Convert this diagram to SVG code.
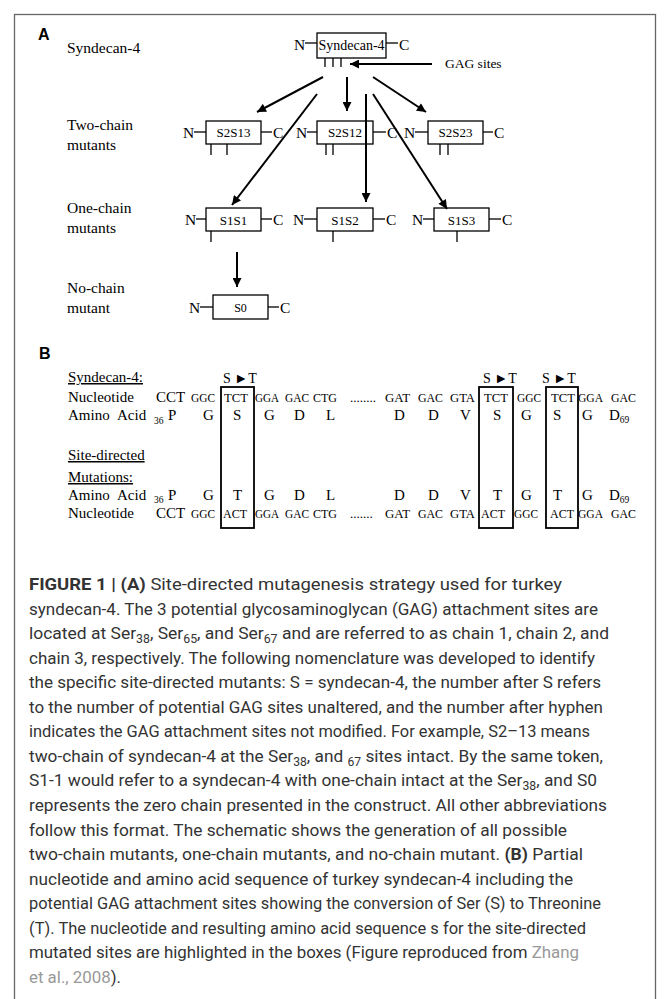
<svg xmlns="http://www.w3.org/2000/svg" width="669" height="999" viewBox="0 0 669 999">
<defs>
<marker id="ah" viewBox="0 0 10 10" refX="10" refY="5" markerWidth="10" markerHeight="9" markerUnits="userSpaceOnUse" orient="auto"><path d="M0,0 L10,5 L0,10 z" fill="#000"/></marker>
<style>
.ser{font-family:"Liberation Serif","Times New Roman",serif;fill:#000}
.lab{font-size:15.5px}
.bx{fill:#fff;stroke:#000;stroke-width:1.3}
.stub{stroke:#000;stroke-width:1.3;fill:none}
.nc{font-size:15.5px}
.bt{font-size:13px;text-anchor:middle}
.arr{stroke:#000;stroke-width:2;fill:none;marker-end:url(#ah)}
.hd{font-family:"Liberation Sans",Arial,sans-serif;font-weight:bold;font-size:16px;fill:#000}
.big{font-size:15px}
.cod{font-size:13px}
.sub{font-size:9.5px}
.sb{fill:none;stroke:#000;stroke-width:1.8}
.cap{font-family:Roboto,"Liberation Sans",sans-serif;font-size:17px;fill:#333}
.capb{font-weight:bold}
.link{fill:#999}
.cs{font-size:12px}
</style>
</defs>
<rect x="14.5" y="14.5" width="641" height="1000" fill="none" stroke="#666" stroke-width="1.3"/>

<text class="hd" x="38" y="40">A</text>
<g class="ser lab">
<text x="67" y="53">Syndecan-4</text>
<text x="67" y="130">Two-chain</text>
<text x="67" y="150">mutants</text>
<text x="67" y="213">One-chain</text>
<text x="67" y="233">mutants</text>
<text x="67" y="293">No-chain</text>
<text x="67" y="313">mutant</text>
</g>

<g id="syndecan4">
<text class="ser nc" x="294" y="50">N</text>
<line class="stub" x1="305" y1="43" x2="317" y2="43"/>
<rect class="bx" x="317" y="33" width="69" height="25"/>
<text class="ser" x="351.5" y="50" font-size="14" text-anchor="middle">Syndecan-4</text>
<line class="stub" x1="386" y1="43" x2="398" y2="43"/>
<text class="ser nc" x="399" y="50">C</text>
<path class="stub" d="M325,58V67M333,58V67M341,58V67"/>
</g>
<g id="gag-label">
<text class="ser" x="445" y="68" font-size="13.5">GAG sites</text>
</g>

<g id="s2s13">
<text class="ser nc" x="183" y="138">N</text>
<line class="stub" x1="194" y1="132" x2="206" y2="132"/>
<rect class="bx" x="206" y="121" width="55" height="23"/>
<text class="ser bt" x="233.5" y="137">S2S13</text>
<line class="stub" x1="261" y1="132" x2="272" y2="132"/>
<text class="ser nc" x="273" y="138">C</text>
<path class="stub" d="M211,144V155M227,144V155"/>
</g>
<g id="s2s12">
<text class="ser nc" x="296" y="138">N</text>
<line class="stub" x1="307" y1="132" x2="317" y2="132"/>
<rect class="bx" x="317" y="121" width="56" height="23"/>
<text class="ser bt" x="345" y="137">S2S12</text>
<line class="stub" x1="373" y1="132" x2="386" y2="132"/>
<text class="ser nc" x="387" y="138">C</text>
<path class="stub" d="M326,144V155M333,144V155"/>
</g>
<g id="s2s23">
<text class="ser nc" x="404" y="138">N</text>
<line class="stub" x1="415" y1="132" x2="428" y2="132"/>
<rect class="bx" x="428" y="121" width="55" height="23"/>
<text class="ser bt" x="455.5" y="137">S2S23</text>
<line class="stub" x1="483" y1="132" x2="493" y2="132"/>
<text class="ser nc" x="494" y="138">C</text>
<path class="stub" d="M440,144V155M448,144V155"/>
</g>

<g id="s1s1">
<text class="ser nc" x="185" y="225">N</text>
<line class="stub" x1="196" y1="219" x2="206" y2="219"/>
<rect class="bx" x="206" y="208" width="55" height="23"/>
<text class="ser bt" x="233.5" y="225">S1S1</text>
<line class="stub" x1="261" y1="219" x2="272" y2="219"/>
<text class="ser nc" x="273" y="225">C</text>
<path class="stub" d="M211,231V242"/>
</g>
<g id="s1s2">
<text class="ser nc" x="293" y="225">N</text>
<line class="stub" x1="304" y1="219" x2="317" y2="219"/>
<rect class="bx" x="317" y="208" width="56" height="23"/>
<text class="ser bt" x="345" y="225">S1S2</text>
<line class="stub" x1="373" y1="219" x2="385" y2="219"/>
<text class="ser nc" x="386" y="225">C</text>
<path class="stub" d="M333,231V242"/>
</g>
<g id="s1s3">
<text class="ser nc" x="412" y="225">N</text>
<line class="stub" x1="423" y1="219" x2="434" y2="219"/>
<rect class="bx" x="434" y="208" width="55" height="23"/>
<text class="ser bt" x="461.5" y="225">S1S3</text>
<line class="stub" x1="489" y1="219" x2="501" y2="219"/>
<text class="ser nc" x="502" y="225">C</text>
<path class="stub" d="M457,231V242"/>
</g>

<g id="s0">
<text class="ser nc" x="189" y="313">N</text>
<line class="stub" x1="200" y1="307" x2="213" y2="307"/>
<rect class="bx" x="213" y="295" width="55" height="24"/>
<text class="ser" x="240.5" y="312" font-size="12" text-anchor="middle">S0</text>
<line class="stub" x1="268" y1="307" x2="279" y2="307"/>
<text class="ser nc" x="280" y="313">C</text>
</g>

<g id="connectors">
<line class="arr" x1="432" y1="64" x2="350" y2="64"/>
<line class="arr" x1="323" y1="77" x2="257" y2="112"/>
<line class="arr" x1="347" y1="77" x2="347" y2="111"/>
<line class="arr" x1="373" y1="77" x2="426" y2="112"/>
<line class="arr" x1="317" y1="94" x2="232" y2="205"/>
<line class="arr" x1="366" y1="94" x2="366" y2="202"/>
<line class="arr" x1="373" y1="94" x2="447" y2="209"/>
<line class="arr" x1="237" y1="252" x2="237" y2="287"/>
</g>

<text class="hd" x="39" y="359">B</text>

<g id="sequence" class="ser">
<text class="big" x="68" y="382" text-decoration="underline">Syndecan-4:</text>
<g font-size="14">
<text x="223" y="383">S ►T</text>
<text x="483" y="383">S ►T</text>
<text x="542" y="383">S ►T</text>
</g>
<text class="big" x="68" y="402">Nucleotide</text>
<text class="big" x="156" y="402">CCT</text>
<g class="cod">
<text x="191" y="402" textLength="24" lengthAdjust="spacingAndGlyphs">GGC</text>
<text x="224" y="402" textLength="24" lengthAdjust="spacingAndGlyphs">TCT</text>
<text x="255" y="402" textLength="24" lengthAdjust="spacingAndGlyphs">GGA</text>
<text x="285" y="402" textLength="24" lengthAdjust="spacingAndGlyphs">GAC</text>
<text x="313" y="402" textLength="24" lengthAdjust="spacingAndGlyphs">CTG</text>
<text x="350" y="402">........</text>
<text x="385" y="402" textLength="25" lengthAdjust="spacingAndGlyphs">GAT</text>
<text x="418" y="402" textLength="25" lengthAdjust="spacingAndGlyphs">GAC</text>
<text x="450" y="402" textLength="25" lengthAdjust="spacingAndGlyphs">GTA</text>
<text x="484" y="402" textLength="24" lengthAdjust="spacingAndGlyphs">TCT</text>
<text x="517" y="402" textLength="24" lengthAdjust="spacingAndGlyphs">GGC</text>
<text x="551" y="402" textLength="24" lengthAdjust="spacingAndGlyphs">TCT</text>
<text x="578" y="402" textLength="25" lengthAdjust="spacingAndGlyphs">GGA</text>
<text x="611" y="402" textLength="25" lengthAdjust="spacingAndGlyphs">GAC</text>
</g>
<g class="big">
<text x="68" y="420">Amino</text>
<text x="117" y="420">Acid</text>
<text x="154" y="424" class="sub">36</text>
<text x="168" y="420">P</text>
<text x="203" y="420">G</text>
<text x="233" y="420">S</text>
<text x="264" y="420">G</text>
<text x="294" y="420">D</text>
<text x="326" y="420">L</text>
<text x="394" y="420">D</text>
<text x="428" y="420">D</text>
<text x="460" y="420">V</text>
<text x="493" y="420">S</text>
<text x="521" y="420">G</text>
<text x="553" y="420">S</text>
<text x="582" y="420">G</text>
<text x="609" y="420">D<tspan class="sub" dy="3">69</tspan></text>
</g>

<text class="big" x="68" y="460" text-decoration="underline">Site-directed</text>
<text class="big" x="68" y="482" text-decoration="underline">Mutations:</text>
<g class="big">
<text x="68" y="500">Amino</text>
<text x="117" y="500">Acid</text>
<text x="154" y="503" class="sub">36</text>
<text x="168" y="500">P</text>
<text x="203" y="500">G</text>
<text x="233" y="500">T</text>
<text x="264" y="500">G</text>
<text x="294" y="500">D</text>
<text x="326" y="500">L</text>
<text x="394" y="500">D</text>
<text x="428" y="500">D</text>
<text x="460" y="500">V</text>
<text x="493" y="500">T</text>
<text x="521" y="500">G</text>
<text x="553" y="500">T</text>
<text x="582" y="500">G</text>
<text x="609" y="500">D<tspan class="sub" dy="3">69</tspan></text>
</g>
<text class="big" x="68" y="518">Nucleotide</text>
<text class="big" x="156" y="518">CCT</text>
<g class="cod">
<text x="191" y="518" textLength="24" lengthAdjust="spacingAndGlyphs">GGC</text>
<text x="223" y="518" textLength="24" lengthAdjust="spacingAndGlyphs">ACT</text>
<text x="255" y="518" textLength="24" lengthAdjust="spacingAndGlyphs">GGA</text>
<text x="285" y="518" textLength="24" lengthAdjust="spacingAndGlyphs">GAC</text>
<text x="313" y="518" textLength="24" lengthAdjust="spacingAndGlyphs">CTG</text>
<text x="350" y="518">.......</text>
<text x="385" y="518" textLength="25" lengthAdjust="spacingAndGlyphs">GAT</text>
<text x="418" y="518" textLength="25" lengthAdjust="spacingAndGlyphs">GAC</text>
<text x="450" y="518" textLength="25" lengthAdjust="spacingAndGlyphs">GTA</text>
<text x="481" y="518" textLength="24" lengthAdjust="spacingAndGlyphs">ACT</text>
<text x="514" y="518" textLength="24" lengthAdjust="spacingAndGlyphs">GGC</text>
<text x="550" y="518" textLength="24" lengthAdjust="spacingAndGlyphs">ACT</text>
<text x="578" y="518" textLength="25" lengthAdjust="spacingAndGlyphs">GGA</text>
<text x="611" y="518" textLength="25" lengthAdjust="spacingAndGlyphs">GAC</text>
</g>
<rect class="sb" x="221" y="387" width="33" height="141"/>
<rect class="sb" x="479" y="387" width="34" height="141"/>
<rect class="sb" x="546" y="387" width="32" height="141"/>
</g>

<g id="caption" class="cap">
<text x="29" y="590" textLength="533" lengthAdjust="spacingAndGlyphs"><tspan class="capb">FIGURE 1 | (A)</tspan> Site-directed mutagenesis strategy used for turkey</text>
<text x="29" y="614.6" textLength="569" lengthAdjust="spacingAndGlyphs">syndecan-4. The 3 potential glycosaminoglycan (GAG) attachment sites are</text>
<text x="29" y="639.1" textLength="580" lengthAdjust="spacingAndGlyphs">located at Ser<tspan class="cs" dy="4">38</tspan><tspan dy="-4">, Ser</tspan><tspan class="cs" dy="4">65</tspan><tspan dy="-4">, and Ser</tspan><tspan class="cs" dy="4">67</tspan><tspan dy="-4"> and are referred to as chain 1, chain 2, and</tspan></text>
<text x="29" y="663.7" textLength="566" lengthAdjust="spacingAndGlyphs">chain 3, respectively. The following nomenclature was developed to identify</text>
<text x="29" y="688.2" textLength="572" lengthAdjust="spacingAndGlyphs">the specific site-directed mutants: S = syndecan-4, the number after S refers</text>
<text x="29" y="712.8" textLength="574" lengthAdjust="spacingAndGlyphs">to the number of potential GAG sites unaltered, and the number after hyphen</text>
<text x="29" y="737.3" textLength="561" lengthAdjust="spacingAndGlyphs">indicates the GAG attachment sites not modified. For example, S2–13 means</text>
<text x="29" y="761.9" textLength="574" lengthAdjust="spacingAndGlyphs">two-chain of syndecan-4 at the Ser<tspan class="cs" dy="4">38</tspan><tspan dy="-4">, and </tspan><tspan class="cs" dy="4">67</tspan><tspan dy="-4"> sites intact. By the same token,</tspan></text>
<text x="29" y="786.4" textLength="568" lengthAdjust="spacingAndGlyphs">S1-1 would refer to a syndecan-4 with one-chain intact at the Ser<tspan class="cs" dy="4">38</tspan><tspan dy="-4">, and S0</tspan></text>
<text x="29" y="811" textLength="578" lengthAdjust="spacingAndGlyphs">represents the zero chain presented in the construct. All other abbreviations</text>
<text x="29" y="835.5" textLength="538" lengthAdjust="spacingAndGlyphs">follow this format. The schematic shows the generation of all possible</text>
<text x="29" y="860.1" textLength="554" lengthAdjust="spacingAndGlyphs">two-chain mutants, one-chain mutants, and no-chain mutant. <tspan class="capb">(B)</tspan> Partial</text>
<text x="29" y="884.6" textLength="544" lengthAdjust="spacingAndGlyphs">nucleotide and amino acid sequence of turkey syndecan-4 including the</text>
<text x="29" y="909.2" textLength="572" lengthAdjust="spacingAndGlyphs">potential GAG attachment sites showing the conversion of Ser (S) to Threonine</text>
<text x="29" y="933.7" textLength="557" lengthAdjust="spacingAndGlyphs">(T). The nucleotide and resulting amino acid sequence s for the site-directed</text>
<text x="29" y="958.3" textLength="550" lengthAdjust="spacingAndGlyphs">mutated sites are highlighted in the boxes (Figure reproduced from <tspan class="link">Zhang</tspan></text>
<text x="29" y="982.8" textLength="92" lengthAdjust="spacingAndGlyphs"><tspan class="link">et al., 2008</tspan>).</text>
</g>
</svg>
